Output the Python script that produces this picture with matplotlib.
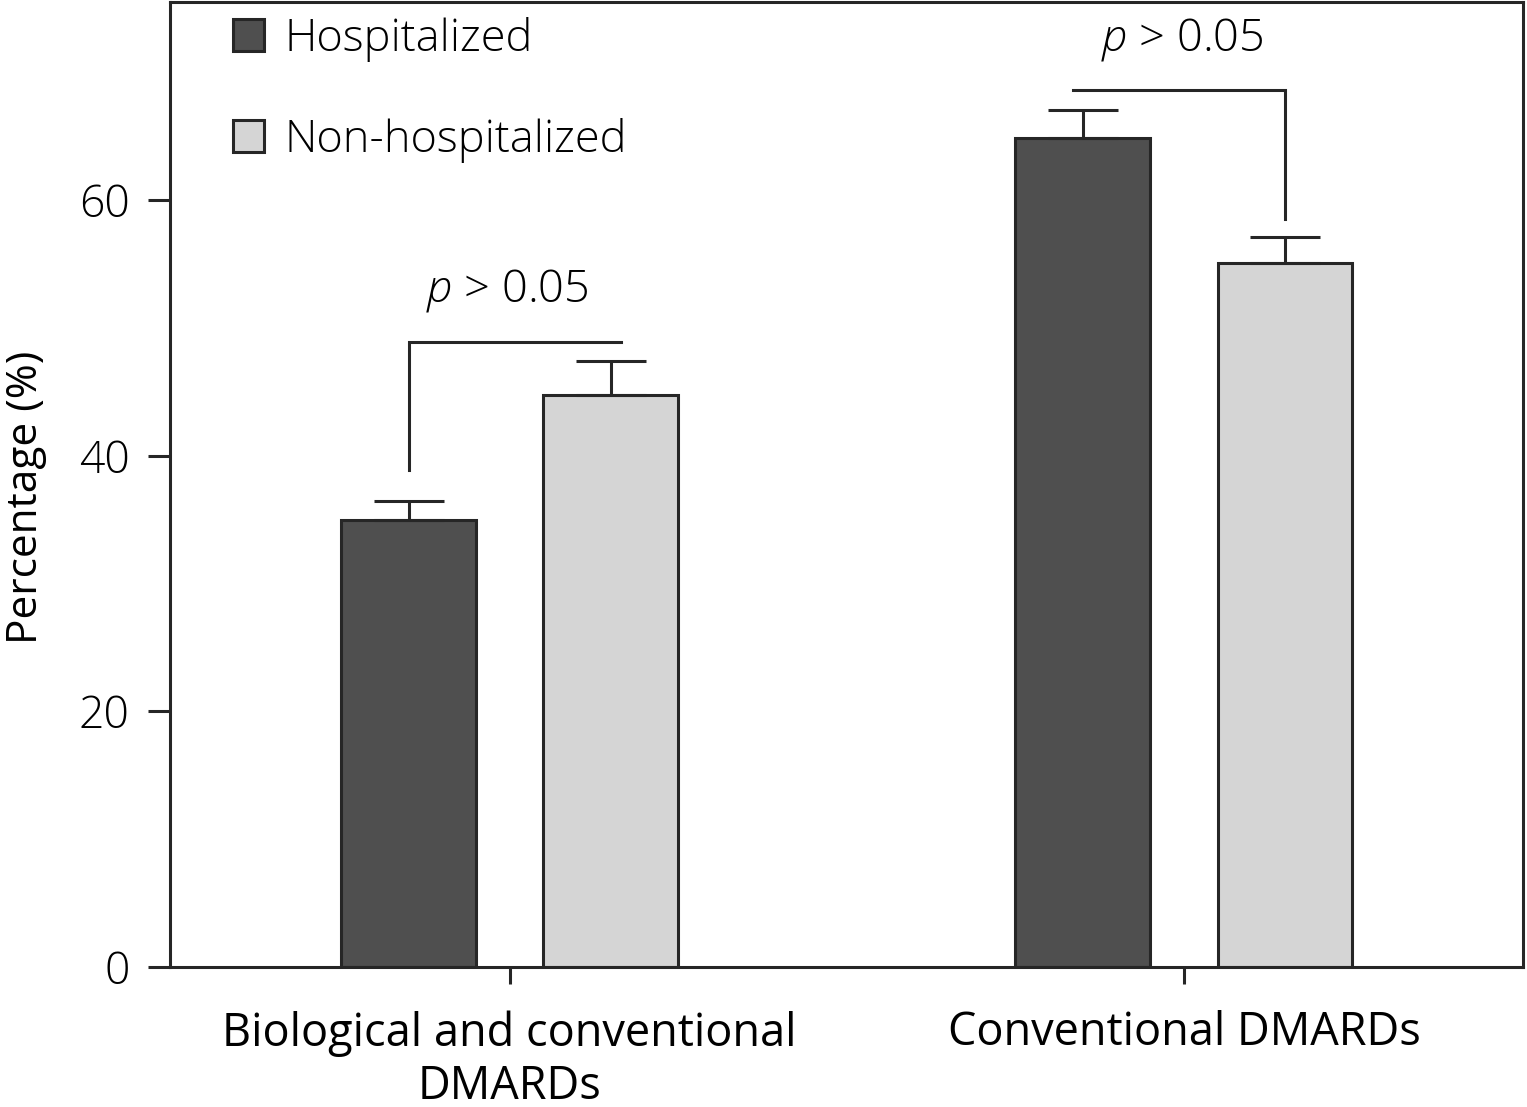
import numpy as np
import matplotlib.pyplot as plt
from matplotlib.patches import Patch

plt.rcParams.update({'font.family': ['Open Sans', 'DejaVu Sans'], 'font.size': 28,
                     'mathtext.fontset': 'custom', 'mathtext.it': 'Open Sans:italic:light',
                     'mathtext.rm': 'Open Sans:light'})

categories = ["Biological and conventional\nDMARDs", "Conventional DMARDs"]
groups = ["Hospitalized", "Non-hospitalized"]
hosp = [35.0, 64.9]
hosp_err = [1.5, 2.2]
nonhosp = [44.8, 55.1]
nonhosp_err = [2.6, 2.0]
p_labels = ["$\\it{p}$ > 0.05", "$\\it{p}$ > 0.05"]

colors = ['#4f4f4f', '#d5d5d5']
edge = '#262626'

fig = plt.figure(figsize=(15.27, 11.07), dpi=100)
ax = fig.add_axes([0.1113, 0.1265, 0.8861, 0.8715])

x = np.arange(len(categories))
w = 0.2
off = 0.15
ekw = dict(elinewidth=2.2, capthick=2.2, ecolor=edge)
ax.bar(x - off, hosp, w, color=colors[0], edgecolor=edge, linewidth=2.2,
       yerr=[np.zeros(2), hosp_err], capsize=25, error_kw=ekw, label=groups[0])
ax.bar(x + off, nonhosp, w, color=colors[1], edgecolor=edge, linewidth=2.2,
       yerr=[np.zeros(2), nonhosp_err], capsize=25, error_kw=ekw, label=groups[1])

# significance brackets
lc = '#262626'
top1 = 48.9
ax.plot([x[0] - off, x[0] - off, x[0] + off + 0.015], [hosp[0] + hosp_err[0] + 2.4, top1, top1],
        color=lc, lw=2.2, solid_joinstyle='miter')
ax.text(x[0] - 0.004, 52.1, p_labels[0], ha='center', va='baseline', fontsize=32.5, fontweight='light')
top2 = 68.6
ax.plot([x[1] - off - 0.015, x[1] + off, x[1] + off], [top2, top2, nonhosp[1] + nonhosp_err[1] + 1.4],
        color=lc, lw=2.2, solid_joinstyle='miter')
ax.text(x[1] - 0.003, 71.7, p_labels[1], ha='center', va='baseline', fontsize=32.5, fontweight='light')

ax.set_xlim(-0.504, 1.503)
ax.set_ylim(0, 75.5)
ax.set_yticks([0, 20, 40, 60])
ax.set_xticks(x)
ax.set_xticklabels(categories, fontsize=32.5, linespacing=1.2)
ax.set_ylabel("Percentage (%)", fontsize=30.5)
ax.yaxis.set_label_coords(-0.091, 0.487)
for lbl in ax.get_yticklabels():
    lbl.set_fontweight('light')
ax.tick_params(axis='y', length=16, width=2.2, color=edge, labelsize=32, pad=13)
ax.tick_params(axis='x', length=12, width=2.2, color=edge, pad=19)
for s in ax.spines.values():
    s.set_linewidth(2.2)
    s.set_color(edge)

handles = [Patch(facecolor=colors[0], edgecolor=edge, linewidth=2.2),
           Patch(facecolor=colors[1], edgecolor=edge, linewidth=2.2)]
leg = ax.legend(handles, groups, loc='upper left', bbox_to_anchor=(0.0163, 1.027), frameon=False,
                handlelength=0.7, handleheight=0.7, handletextpad=0.45, labelspacing=1.24,
                prop={'size': 32.5, 'weight': 'light'})

fig.savefig('out.png', dpi=100)
